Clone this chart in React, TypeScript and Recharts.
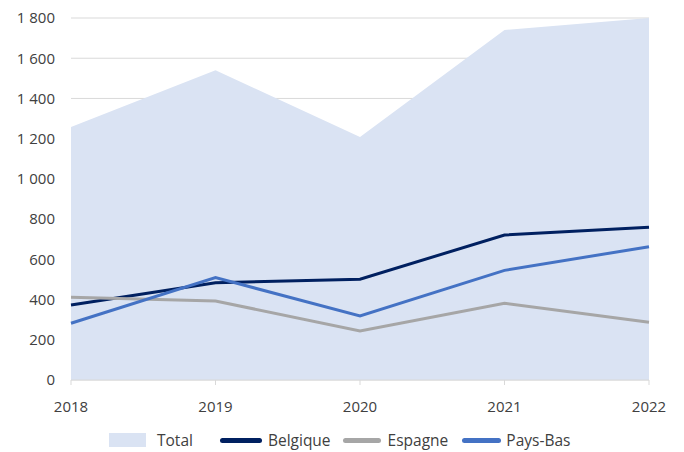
import React from 'react';
import { ComposedChart, Area, Line, XAxis, YAxis, CartesianGrid, Legend } from 'recharts';

const years = ['2018', '2019', '2020', '2021', '2022'];
const total = [1258, 1540, 1208, 1740, 1800];
const belgique = [373, 484, 501, 721, 759];
const espagne = [411, 393, 244, 381, 287];
const paysBas = [282, 509, 318, 545, 663];
const yTicks = [0, 200, 400, 600, 800, 1000, 1200, 1400, 1600, 1800];

const data = years.map((y, i) => ({
  year: y,
  Total: total[i],
  Belgique: belgique[i],
  Espagne: espagne[i],
  'Pays-Bas': paysBas[i],
}));

const FONT = '"Open Sans", sans-serif';
const TEXT = '#404040';

const fmt = (v: number) => String(v).replace(/\B(?=(\d{3})+(?!\d))/g, '\u00a0');

const legendItems = [
  { name: 'Total', color: '#dae3f3', kind: 'rect', before: 0, sw: 37, gap: 11 },
  { name: 'Belgique', color: '#002060', kind: 'line', before: 27, sw: 42, gap: 6 },
  { name: 'Espagne', color: '#a6a6a6', kind: 'line', before: 12, sw: 38, gap: 7 },
  { name: 'Pays-Bas', color: '#4472c4', kind: 'line', before: 14, sw: 39, gap: 5 },
];

const CustomLegend = () => (
  <div
    style={{
      width: 684,
      height: 32,
      boxSizing: 'border-box',
      paddingTop: 8,
      paddingLeft: 109,
      display: 'flex',
      justifyContent: 'flex-start',
      alignItems: 'center',
      fontFamily: FONT,
      fontSize: 15.5,
      color: TEXT,
    }}
  >
    {legendItems.map((it) => (
      <div key={it.name} style={{ display: 'flex', alignItems: 'center', marginLeft: it.before, height: 24 }}>
        {it.kind === 'rect' ? (
          <div style={{ width: it.sw, height: 14, background: it.color, marginRight: it.gap }} />
        ) : (
          <div style={{ width: it.sw, height: 5, borderRadius: 3, background: it.color, marginRight: it.gap }} />
        )}
        <span style={{ whiteSpace: 'nowrap' }}>{it.name}</span>
      </div>
    ))}
  </div>
);

export default function App() {
  return (
    <div style={{ position: 'absolute', left: 0, top: 0, background: '#fff' }}>
      <ComposedChart width={684} height={452} data={data} margin={{ top: 18, right: 35, left: 0, bottom: 0 }}>
        <CartesianGrid vertical={false} stroke="#d9d9d9" strokeWidth={1} />
        <XAxis
          dataKey="year"
          height={40}
          axisLine={{ stroke: '#d9d9d9' }}
          tickLine={{ stroke: '#d9d9d9' }}
          tickSize={5}
          tickMargin={16}
          tick={{ fill: TEXT, fontSize: 15, fontFamily: FONT }}
          interval={0}
        />
        <YAxis
          width={71}
          domain={[0, 1800]}
          ticks={yTicks}
          axisLine={false}
          tickLine={false}
          tickMargin={10}
          tickFormatter={fmt}
          tick={{ fill: TEXT, fontSize: 15, fontFamily: FONT }}
        />
        <Legend verticalAlign="bottom" height={32} content={<CustomLegend />} wrapperStyle={{ left: 0, width: 684 }} />
        <Area type="linear" dataKey="Total" fill="#dae3f3" fillOpacity={1} stroke="none" isAnimationActive={false} />
        <Line type="linear" dataKey="Belgique" stroke="#002060" strokeWidth={3} dot={false} isAnimationActive={false} />
        <Line type="linear" dataKey="Espagne" stroke="#a6a6a6" strokeWidth={3} dot={false} isAnimationActive={false} />
        <Line type="linear" dataKey="Pays-Bas" stroke="#4472c4" strokeWidth={3} dot={false} isAnimationActive={false} />
      </ComposedChart>
    </div>
  );
}
